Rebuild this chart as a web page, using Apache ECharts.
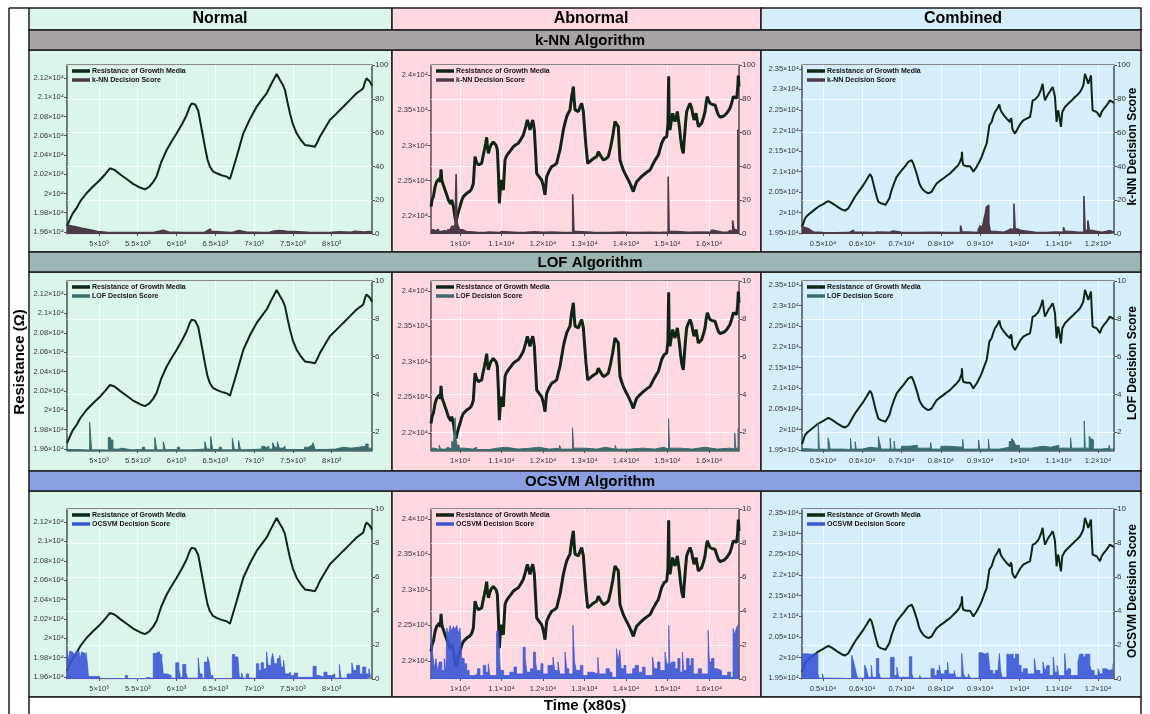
<!DOCTYPE html>
<html>
<head>
<meta charset="utf-8">
<script src="https://cdn.jsdelivr.net/npm/echarts@6/dist/echarts.min.js"></script>
<style>
  html, body { margin: 0; padding: 0; background: #fff; }
  #chart { width: 1150px; height: 714px; }
</style>
</head>
<body>
<div id="chart"></div>
<script>
// ---------- Resistance of growth media, [time, ohm] ----------
const resNormal = [
  [4588,19660],[4620,19720],[4660,19790],[4713,19850],[4760,19920],[4842,20005],[4920,20070],[5013,20140],
  [5080,20200],[5142,20262],[5200,20245],[5280,20195],[5357,20150],[5440,20100],[5529,20062],[5593,20043],
  [5650,20070],[5700,20120],[5744,20180],[5800,20320],[5873,20452],[5940,20545],[6002,20625],[6070,20720],
  [6131,20816],[6170,20900],[6195,20935],[6240,20925],[6259,20920],[6280,20860],[6302,20764],[6340,20600],
  [6366,20486],[6400,20350],[6431,20278],[6470,20230],[6517,20210],[6580,20190],[6646,20175],[6689,20150],
  [6730,20260],[6775,20382],[6820,20510],[6861,20625],[6950,20780],[7033,20902],[7100,20975],[7162,21041],
  [7230,21150],[7291,21242],[7310,21240],[7333,21180],[7370,21130],[7398,21075],[7430,20950],[7462,20833],
  [7500,20720],[7548,20625],[7600,20560],[7655,20504],[7720,20495],[7784,20486],[7820,20540],[7848,20590],
  [7900,20660],[7977,20764],[8060,20830],[8149,20902],[8240,20975],[8321,21041],[8380,21075],[8407,21093],
  [8430,21160],[8450,21197],[8475,21180],[8493,21162],[8520,21120]
];
const resAbnormal = [
  [9300,22132],[9330,22240],[9357,22274],[9400,22420],[9438,22487],[9470,22500],[9502,22534],[9525,22480],
  [9542,22662],[9560,22520],[9582,22463],[9610,22420],[9638,22369],[9680,22300],[9719,22227],[9750,22200],
  [9775,22170],[9800,22230],[9823,22250],[9845,22120],[9863,22038],[9885,21960],[9903,21920],[9925,21980],
  [9944,21991],[9970,22080],[9999,22132],[10040,22220],[10080,22274],[10120,22300],[10160,22321],[10210,22340],
  [10265,22369],[10300,22420],[10321,22463],[10340,22650],[10361,22841],[10400,22760],[10442,22723],[10480,22740],
  [10522,22747],[10555,22850],[10586,22936],[10615,23020],[10642,23116],[10660,22980],[10683,22889],[10715,22960],
  [10747,23007],[10800,23050],[10843,23078],[10870,23000],[10899,22936],[10925,22600],[10948,22180],[10970,22380],
  [10988,22511],[11015,22420],[11044,22369],[11065,22600],[11084,22794],[11120,22850],[11165,22889],[11220,22930],
  [11285,22983],[11345,23010],[11405,23031],[11470,23090],[11526,23149],[11580,23260],[11622,23361],[11655,23290],
  [11686,23220],[11720,23300],[11751,23361],[11770,23300],[11791,23220],[11820,22900],[11847,22605],[11900,22560],
  [11967,22511],[12010,22420],[12048,22298],[12070,22450],[12088,22558],[12150,22640],[12208,22700],[12270,22720],
  [12329,22747],[12370,22850],[12409,22936],[12450,23080],[12490,23220],[12530,23320],[12570,23409],[12610,23460],
  [12650,23503],[12670,23600],[12690,23692],[12710,23760],[12731,23834],[12750,23650],[12771,23503],[12810,23490],
  [12851,23480],[12890,23540],[12931,23598],[12952,23540],[12972,23480],[13000,23250],[13036,22983],[13076,22747],
  [13120,22770],[13172,22794],[13230,22820],[13293,22841],[13333,22912],[13390,22850],[13453,22794],[13510,22810],
  [13574,22841],[13630,22980],[13678,23125],[13710,23250],[13734,23338],[13775,23300],[13815,23267],[13835,23000],
  [13855,22794],[13895,22720],[13935,22652],[13995,22580],[14056,22511],[14120,22430],[14176,22345],[14215,22420],
  [14257,22487],[14340,22540],[14417,22581],[14500,22620],[14578,22652],[14620,22700],[14659,22747],[14720,22810],
  [14779,22865],[14820,22950],[14859,23031],[14916,23101],[14980,23125],[15010,23300],[15028,23980],[15040,23400],
  [15060,23220],[15090,23340],[15124,23456],[15150,23390],[15181,23338],[15210,23410],[15237,23480],[15260,23380],
  [15285,23267],[15315,23100],[15341,22983],[15360,22930],[15381,22889],[15400,23050],[15422,23220],[15440,23350],
  [15462,23480],[15500,23540],[15543,23598],[15583,23527],[15610,23440],[15639,23361],[15660,23400],[15687,23456],
  [15715,23360],[15743,23267],[15780,23290],[15823,23314],[15870,23400],[15904,23480],[15930,23600],[15960,23692],
  [15990,23640],[16024,23598],[16080,23580],[16145,23574],[16185,23500],[16225,23432],[16265,23400],[16305,23385],
  [16365,23420],[16426,23456],[16466,23490],[16506,23527],[16545,23600],[16586,23692],[16627,23716],[16667,23669],
  [16690,23800],[16707,23990],[16723,23834]
];
const resCombined = [
  [4466,19650],[4542,19864],[4600,19930],[4669,19985],[4780,20070],[4881,20146],[5009,20211],[5070,20250],
  [5136,20284],[5220,20240],[5306,20187],[5390,20130],[5475,20082],[5560,20050],[5645,20106],[5730,20250],
  [5815,20389],[5920,20530],[6027,20672],[6110,20800],[6196,20938],[6239,20874],[6280,20720],[6323,20551],
  [6365,20400],[6408,20268],[6470,20230],[6536,20211],[6590,20190],[6637,20163],[6690,20350],[6747,20551],
  [6810,20720],[6875,20874],[6960,20980],[7044,21076],[7110,21160],[7172,21237],[7257,21278],[7300,21190],
  [7341,21076],[7400,20900],[7452,20712],[7500,20620],[7553,20551],[7620,20500],[7681,20470],[7720,20460],
  [7765,20510],[7830,20620],[7893,20712],[7980,20780],[8062,20833],[8150,20900],[8232,20955],[8320,21040],
  [8402,21116],[8440,21160],[8469,21197],[8512,21157],[8530,21350],[8537,21480],[8550,21250],[8571,21157],
  [8620,21140],[8656,21132],[8700,21140],[8741,21132],[8790,21060],[8826,20995],[8870,21060],[8910,21116],
  [8980,21240],[9038,21359],[9100,21520],[9165,21682],[9200,21900],[9233,22126],[9292,22207],[9330,22330],
  [9377,22450],[9436,22530],[9487,22635],[9520,22500],[9547,22450],[9610,22360],[9674,22288],[9720,22240],
  [9759,22207],[9780,22300],[9801,22247],[9818,22045],[9850,21980],[9886,21924],[9930,22000],[9971,22070],
  [10030,22170],[10098,22247],[10180,22290],[10268,22328],[10300,22500],[10336,22732],[10390,22750],[10437,22773],
  [10470,22830],[10505,22894],[10550,23000],[10590,23136],[10620,22900],[10649,22732],[10690,22810],[10734,22894],
  [10790,22970],[10844,23055],[10875,22950],[10904,22813],[10925,22500],[10946,22207],[10965,22400],[10988,22490],
  [11020,22300],[11056,22086],[11075,22300],[11090,22450],[11158,22571],[11220,22630],[11285,22692],[11350,22750],
  [11413,22813],[11480,22870],[11540,22934],[11585,23010],[11625,23096],[11650,23250],[11667,23379],[11710,23260],
  [11752,23136],[11790,23250],[11820,23339],[11840,22900],[11862,22490],[11910,22470],[11964,22450],[12010,22390],
  [12049,22328],[12091,22450],[12150,22530],[12218,22611],[12260,22670],[12303,22732],[12350,22700],[12406,22668]
];

// ---------- Decision scores, [time, score]; each value holds until the next time ----------
const knnNormal = [
  [4588,5],[4620,4.6],[4660,4.2],[4700,3.8],[4740,3.4],[4780,3],[4830,2.5],[4880,2],[4930,1.4],[4980,1],
  [5100,0.8],[5300,0.9],[5500,0.8],[5700,1.5],[5760,2.2],[5830,1.2],[5900,0.8],[6100,0.9],[6360,2],[6400,3],
  [6440,1.5],[6500,0.8],[6700,1.2],[6740,2],[6800,1.2],[6900,0.8],[7100,1],[7200,1.8],[7260,2],[7330,1.6],
  [7420,1.5],[7500,1],[7700,0.9],[7900,1],[8000,1.3],[8100,1],[8250,1.6],[8300,1.2],[8420,1.5],[8480,1.2],[8520,1]
];
const knnAbnormal = [
  [9300,2.5],[9350,1.8],[9420,2.8],[9480,1.5],[9560,2],[9640,1.2],[9700,2.5],[9760,3.5],[9800,4.5],[9850,3],
  [9880,6],[9905,35.5],[9925,7],[9960,4],[10000,2.5],[10060,1.5],[10150,1],[10400,0.8],[10600,1.2],[10700,0.8],
  [10950,1.5],[11000,0.8],[11400,1],[11600,1.3],[11800,1],[12000,1.2],[12200,0.8],[12500,1],[12715,23.5],[12745,1.5],
  [12800,1],[13200,0.8],[13600,1.2],[13900,0.8],[14200,1],[14600,0.8],[14800,1.2],[15015,34],[15040,1.5],[15200,1],
  [15500,1.2],[15800,1],[16050,2.2],[16100,1.2],[16300,1],[16450,2],[16500,1.5],[16570,8],[16600,3],[16640,2],
  [16695,61.5],[16723,61.5]
];
const knnCombined = [
  [4466,4],[4520,3.5],[4580,3],[4640,2],[4700,1.2],[4760,0.8],[5000,0.7],[5300,0.8],[5650,1.5],[5720,2.2],
  [5780,1],[6000,0.8],[6300,1.2],[6360,2.2],[6400,1],[6650,1.2],[6720,1.8],[6780,1],[7000,0.8],[7400,1],
  [7800,0.8],[8200,1],[8500,5],[8540,1.2],[8700,0.8],[8950,2.5],[9000,5],[9050,3],[9090,8],[9130,12],
  [9160,16],[9190,17],[9220,6],[9260,1.5],[9400,1],[9600,2],[9700,3],[9780,2.5],[9860,18],[9890,3],
  [9950,2],[10050,1],[10400,0.8],[10700,1.2],[10900,1],[11120,4],[11160,1.5],[11300,1],[11500,1.2],[11640,22.5],
  [11670,2],[11740,8],[11780,2],[11850,1],[12100,1.5],[12200,2],[12300,1],[12406,1]
];
const lofNormal = [
  [4588,1.08],[4700,1.05],[4880,2.52],[4905,1.06],[5000,1.05],[5120,1.71],[5150,1.58],[5180,1.1],[5260,1.15],
  [5290,1.06],[5420,1.08],[5560,1.2],[5590,1.06],[5720,1.71],[5745,1.06],[5830,1.49],[5855,1.07],[6010,1.2],
  [6040,1.06],[6200,1.1],[6365,1.49],[6390,1.1],[6440,1.76],[6465,1.08],[6550,1.2],[6580,1.06],[6720,1.67],
  [6745,1.08],[6800,1.55],[6825,1.07],[6950,1.1],[7100,1.25],[7130,1.18],[7160,1.25],[7190,1.1],[7240,1.44],
  [7265,1.2],[7300,1.49],[7325,1.15],[7370,1.25],[7400,1.08],[7650,1.2],[7700,1.3],[7740,1.15],[7760,1.44],
  [7785,1.08],[7900,1.1],[8050,1.2],[8150,1.15],[8250,1.2],[8350,1.25],[8440,1.37],[8470,1.15],[8520,1.1]
];
const lofAbnormal = [
  [9300,1.15],[9380,1.08],[9500,1.3],[9530,1.1],[9650,1.2],[9700,1.1],[9800,1.53],[9840,1.3],[9880,2.76],
  [9905,1.6],[9930,1.3],[9980,1.15],[10100,1.1],[10300,1.2],[10400,1.08],[10700,1.15],[10900,1.2],[11100,1.1],
  [11400,1.15],[11700,1.2],[11900,1.1],[12150,1.15],[12400,1.3],[12430,1.1],[12710,2.23],[12740,1.15],[13000,1.1],
  [13300,1.2],[13500,1.1],[13740,1.3],[13770,1.1],[14100,1.15],[14400,1.1],[14700,1.2],[14900,1.1],[15025,2.71],
  [15050,1.15],[15300,1.1],[15600,1.2],[15900,1.1],[16200,1.15],[16500,1.1],[16620,1.96],[16645,1.15],[16700,2.2],
  [16723,2.2]
];
const lofCombined = [
  [4466,1.12],[4600,1.08],[4880,2.5],[4905,1.1],[5000,1.08],[5130,1.7],[5155,1.5],[5180,1.1],[5480,1.2],
  [5505,1.08],[5700,1.67],[5725,1.1],[5820,1.49],[5845,1.1],[6000,1.2],[6200,1.15],[6410,1.76],[6435,1.5],
  [6480,1.1],[6710,1.67],[6735,1.1],[6810,1.53],[6835,1.1],[7000,1.25],[7200,1.3],[7400,1.15],[7740,1.44],
  [7765,1.1],[8000,1.25],[8200,1.2],[8555,1.62],[8580,1.1],[8960,1.58],[8985,1.1],[9210,1.62],[9235,1.1],
  [9500,1.2],[9740,1.5],[9800,1.67],[9850,1.55],[9900,1.3],[10000,1.15],[10300,1.25],[10600,1.2],[10800,1.3],
  [11000,1.15],[11300,1.7],[11325,1.15],[11650,2.58],[11675,1.15],[11775,1.79],[11800,1.67],[11850,1.6],
  [11880,1.1],[12100,1.15],[12280,1.3],[12300,1.1],[12406,1.15]
];
const ocsvmNormal = [
  [4588,1.65],[4610,1.1],[4625,1.65],[4650,1.55],[4670,1.65],[4690,1.3],[4705,1.65],[4740,1.6],[4760,1.2],
  [4775,1.6],[4800,1.5],[4820,1.0],[4835,1.55],[4850,0.9],[4865,0.15],[4935,0.1],[4960,0.15],[5010,0.02],
  [5340,0.2],[5370,0.02],[5600,0.1],[5630,0.02],[5700,1.5],[5730,1.6],[5780,1.45],[5810,1.1],[5830,0.3],
  [5880,0.2],[5930,0.05],[5990,0.95],[6030,0.6],[6050,0.1],[6080,0.85],[6120,0.4],[6140,0.05],[6280,1.25],
  [6300,0.3],[6330,0.05],[6360,1.0],[6400,1.3],[6420,1.0],[6440,0.2],[6470,0.02],[6720,1.44],[6750,1.3],
  [6790,1.4],[6810,0.1],[6840,0.35],[6860,0.05],[6900,0.3],[6930,0.05],[7030,0.9],[7060,0.5],[7090,0.95],
  [7120,0.6],[7160,1.6],[7180,0.8],[7220,1.1],[7240,1.5],[7260,0.9],[7300,1.2],[7330,1.4],[7350,0.7],
  [7380,1.1],[7400,0.3],[7440,0.4],[7470,0.2],[7520,0.35],[7560,0.1],[7760,0.75],[7800,0.2],[7840,0.1],
  [7900,0.4],[7940,0.2],[8000,0.3],[8040,0.05],[8100,0.85],[8120,0.05],[8200,0.3],[8260,0.95],[8280,0.5],
  [8320,0.8],[8360,0.3],[8400,0.7],[8440,0.3],[8480,0.6],[8500,0.1],[8520,0.1]
];
const ocsvmAbnormal = [
  [9300,3.1],[9340,1.5],[9380,0.6],[9420,1.2],[9460,0.4],[9500,1.0],[9560,0.5],[9620,1.2],[9660,0.4],
  [9680,3.0],[9720,2.6],[9760,3.15],[9800,2.8],[9840,3.1],[9880,2.9],[9920,3.15],[9960,2.7],[10000,3.0],
  [10040,1.2],[10100,0.9],[10160,0.5],[10220,0.2],[10340,0.3],[10420,0.6],[10480,0.2],[10560,0.8],[10620,0.4],
  [10680,0.9],[10720,0.2],[10880,2.8],[10930,2.6],[10970,0.5],[11050,0.2],[11200,0.4],[11300,0.7],[11360,0.3],
  [11520,1.87],[11570,1.2],[11610,0.4],[11700,0.6],[11770,1.58],[11820,1.0],[11850,0.5],[11950,0.9],[12000,0.3],
  [12120,0.8],[12240,1.28],[12280,0.5],[12360,1.0],[12400,0.3],[12530,1.58],[12570,0.6],[12620,0.3],[12720,3.16],
  [12760,1.0],[12800,0.5],[12900,0.8],[12960,0.2],[13080,0.4],[13200,0.3],[13320,1.28],[13350,0.3],[13520,0.6],
  [13600,0.4],[13660,0.1],[13770,1.78],[13810,1.0],[13850,1.7],[13880,0.6],[13950,0.8],[14000,0.3],[14160,0.6],
  [14220,0.8],[14300,0.4],[14400,0.7],[14460,0.2],[14640,1.28],[14680,0.6],[14760,1.0],[14820,0.5],[14940,1.58],
  [14980,0.9],[15030,3.15],[15055,0.8],[15100,1.0],[15180,0.6],[15250,1.2],[15300,0.4],[15360,1.58],[15390,0.5],
  [15460,1.2],[15520,0.8],[15570,1.2],[15620,0.3],[15740,0.6],[15820,0.3],[15980,2.86],[16010,1.0],[16060,1.2],
  [16120,0.6],[16200,0.5],[16300,0.2],[16450,0.4],[16520,0.1],[16580,2.96],[16620,2.6],[16660,3.0],[16700,3.2],
  [16723,3.2]
];
const ocsvmCombined = [
  [4466,1.48],[4600,1.45],[4700,1.48],[4760,1.3],[4800,1.48],[4870,0.3],[4900,0.05],[4990,0.3],[5010,0.05],
  [5340,0.15],[5370,0.02],[5730,1.4],[5770,1.1],[5810,0.7],[5850,0.3],[5880,0.05],[6060,0.82],[6100,0.6],
  [6150,0.1],[6230,0.8],[6260,0.1],[6360,1.21],[6420,0.4],[6460,0.05],[6720,1.27],[6810,0.2],[6880,0.7],
  [6920,0.1],[7200,1.31],[7260,0.3],[7300,0.05],[7460,0.2],[7500,0.05],[7750,0.6],[7830,0.2],[7900,0.5],
  [7960,0.8],[8000,0.3],[8100,0.5],[8170,1.0],[8200,0.3],[8340,0.5],[8380,0.1],[8530,1.5],[8575,0.3],
  [8620,0.1],[8700,0.3],[8750,0.05],[8970,1.54],[9050,1.45],[9120,1.54],[9200,1.5],[9250,0.5],[9320,0.3],
  [9380,0.5],[9440,0.1],[9490,1.5],[9520,0.5],[9560,0.1],[9680,1.46],[9740,1.3],[9780,1.46],[9840,1.2],
  [9900,1.46],[9980,0.8],[10040,0.4],[10100,0.6],[10200,0.3],[10380,1.2],[10420,0.5],[10520,0.3],[10600,1.0],
  [10650,0.4],[10700,0.8],[10760,0.2],[10860,1.3],[10900,0.4],[10960,0.8],[11000,0.2],[11150,1.5],[11190,0.4],
  [11240,0.6],[11300,0.2],[11490,1.0],[11530,1.46],[11620,1.3],[11680,1.46],[11790,0.8],[11830,0.5],[11900,0.2],
  [12000,0.6],[12050,0.3],[12120,0.6],[12200,0.5],[12300,0.6],[12380,0.9],[12406,0.9]
];

// ---------- Tick values ----------
const normalTimeTicks   = [5000, 5500, 6000, 6500, 7000, 7500, 8000];
const abnormalTimeTicks = [10000, 11000, 12000, 13000, 14000, 15000, 16000];
const combinedTimeTicks = [5000, 6000, 7000, 8000, 9000, 10000, 11000, 12000];
const normalResTicks    = [19600, 19800, 20000, 20200, 20400, 20600, 20800, 21000, 21200];
const abnormalResTicks  = [22000, 22500, 23000, 23500, 24000];
const combinedResTicks  = [19500, 20000, 20500, 21000, 21500, 22000, 22500, 23000, 23500];
const knnScoreTicks     = [0, 20, 40, 60, 80, 100];
const lofScoreTicks     = [2, 4, 6, 8, 10];
const ocsvmScoreTicks   = [0, 2, 4, 6, 8, 10];

const RES_NAME = 'Resistance of Growth Media';
const FONT = '"Liberation Sans", Arial, Helvetica, sans-serif';
const EDGE = '#1d1d1d';

const SUP = { 3: '\u00B3', 4: '\u2074' };
function sci(exp) {
  return function (v) {
    const m = +(v / Math.pow(10, exp)).toFixed(4);
    return m + '\u00D710' + SUP[exp];
  };
}

// Columns: data sets and plot geometry
const columns = [
  { title: 'Normal',   titleX: 220, x0: 29,  x1: 392,  fill: '#dcf5eb',
    left: 67,  width: 305, tMin: 4588, tMax: 8520,  tTicks: normalTimeTicks,   tExp: 3,
    res: resNormal,   rMin: 19579, rMax: 21335, rTicks: normalResTicks,   lineW: 2 },
  { title: 'Abnormal', titleX: 591, x0: 392, x1: 761,  fill: '#ffd9df',
    left: 431, width: 308, tMin: 9300, tMax: 16723, tTicks: abnormalTimeTicks, tExp: 4,
    res: resAbnormal, rMin: 21745, rMax: 24140, rTicks: abnormalResTicks, lineW: 3 },
  { title: 'Combined', titleX: 963, x0: 761, x1: 1141, fill: '#d5eefa',
    left: 802, width: 312, tMin: 4466, tMax: 12406, tTicks: combinedTimeTicks, tExp: 4,
    res: resCombined, rMin: 19483, rMax: 23592, rTicks: combinedResTicks, lineW: 2 }
];

// Rows: one per detection algorithm
const rows = [
  { band: 'k-NN Algorithm',  bandY: 30,  bandFill: '#a6a2a6', panelY: 50,  panelH: 202,
    top: 65,  height: 169, name: 'k-NN Decision Score',  color: '#4b3b48', opacity: 1,
    sMin: 0, sMax: 100, sTicks: knnScoreTicks,   scores: [knnNormal, knnAbnormal, knnCombined], lw: 1.6 },
  { band: 'LOF Algorithm',   bandY: 252, bandFill: '#9db6b5', panelY: 272, panelH: 199,
    top: 281, height: 170, name: 'LOF Decision Score',   color: '#3d6c6e', opacity: 1,
    sMin: 1, sMax: 10,  sTicks: lofScoreTicks,   scores: [lofNormal, lofAbnormal, lofCombined], lw: 1 },
  { band: 'OCSVM Algorithm', bandY: 471, bandFill: '#8d9fe3', panelY: 491, panelH: 206,
    top: 509, height: 170, name: 'OCSVM Decision Score', color: '#3a56d6', opacity: 0.9,
    sMin: 0, sMax: 10,  sTicks: ocsvmScoreTicks, scores: [ocsvmNormal, ocsvmAbnormal, ocsvmCombined], lw: 0.8 }
];

const grids = [], xAxes = [], yAxes = [], series = [], legends = [], graphics = [];

// Frame, column headers, algorithm bands and panel backgrounds
graphics.push({ type: 'line', z: 5, silent: true, shape: { x1: 9, y1: 8, x2: 9, y2: 714 },
  style: { stroke: EDGE, lineWidth: 1.5 } });
graphics.push({ type: 'line', z: 5, silent: true, shape: { x1: 9, y1: 8, x2: 29, y2: 8 },
  style: { stroke: EDGE, lineWidth: 1.5 } });
columns.forEach(c => {
  graphics.push({ type: 'rect', z: -1, silent: true,
    shape: { x: c.x0, y: 8, width: c.x1 - c.x0, height: 22 },
    style: { fill: c.fill, stroke: EDGE, lineWidth: 1.5 } });
  graphics.push({ type: 'text', z: 10, silent: true, x: c.titleX, y: 19,
    style: { text: c.title, fill: '#000', fontSize: 16, fontWeight: 'bold', fontFamily: FONT,
             align: 'center', verticalAlign: 'middle' } });
  rows.forEach(r => {
    graphics.push({ type: 'rect', z: -1, silent: true,
      shape: { x: c.x0, y: r.panelY, width: c.x1 - c.x0, height: r.panelH },
      style: { fill: c.fill, stroke: EDGE, lineWidth: 1.5 } });
  });
});
rows.forEach(r => {
  graphics.push({ type: 'rect', z: -1, silent: true,
    shape: { x: 29, y: r.bandY, width: 1112, height: 20 },
    style: { fill: r.bandFill, stroke: EDGE, lineWidth: 1.5 } });
  graphics.push({ type: 'text', z: 10, silent: true, x: 590, y: r.bandY + 10.5,
    style: { text: r.band, fill: '#000', fontSize: 15, fontWeight: 'bold', fontFamily: FONT,
             align: 'center', verticalAlign: 'middle' } });
  graphics.push({ type: 'text', z: 10, silent: true, x: 1133, y: r.top + r.height / 2 - 3,
    rotation: Math.PI / 2,
    style: { text: r.name, fill: '#000', fontSize: 12, fontWeight: 'bold', fontFamily: FONT,
             align: 'center', verticalAlign: 'middle' } });
});
graphics.push({ type: 'rect', z: -1, silent: true,
  shape: { x: 29, y: 697, width: 1112, height: 30 },
  style: { fill: '#fff', stroke: EDGE, lineWidth: 1.5 } });
graphics.push({ type: 'text', z: 10, silent: true, x: 585, y: 706,
  style: { text: 'Time (x80s)', fill: '#000', fontSize: 15, fontWeight: 'bold', fontFamily: FONT,
           align: 'center', verticalAlign: 'middle' } });
graphics.push({ type: 'text', z: 10, silent: true, x: 20, y: 362, rotation: Math.PI / 2,
  style: { text: 'Resistance (\u03A9)', fill: '#000', fontSize: 15, fontWeight: 'bold', fontFamily: FONT,
           align: 'center', verticalAlign: 'middle' } });

// Nine plots
const gridLine = { show: true, lineStyle: { color: 'rgba(255,255,255,0.75)', width: 1 } };
rows.forEach((r, ri) => {
  columns.forEach((c, ci) => {
    const g = grids.length;
    grids.push({ left: c.left, top: r.top, width: c.width, height: r.height,
      show: true, borderColor: '#2a2a2a', borderWidth: 1.2, backgroundColor: 'rgba(0,0,0,0)',
      containLabel: false });
    xAxes.push({ type: 'value', gridIndex: g, min: c.tMin, max: c.tMax,
      axisLine: { show: false },
      axisTick: { show: true, length: 2, customValues: c.tTicks, lineStyle: { color: '#555' } },
      axisLabel: { customValues: c.tTicks, formatter: sci(c.tExp), fontSize: 7.5, color: '#333',
                   fontFamily: FONT, margin: 6 },
      splitLine: gridLine });
    yAxes.push({ type: 'value', gridIndex: g, position: 'left', min: c.rMin, max: c.rMax,
      axisLine: { show: false },
      axisTick: { show: true, length: 3, customValues: c.rTicks, lineStyle: { color: '#555' } },
      axisLabel: { customValues: c.rTicks, formatter: sci(4), fontSize: 7.5, color: '#333',
                   fontFamily: FONT, margin: 3 },
      splitLine: { show: false } });
    yAxes.push({ type: 'value', gridIndex: g, position: 'right', min: r.sMin, max: r.sMax,
      axisLine: { show: false },
      axisTick: { show: true, length: 3, customValues: r.sTicks, lineStyle: { color: '#555' } },
      axisLabel: { customValues: r.sTicks, fontSize: 8, color: '#333', fontFamily: FONT, margin: 3 },
      splitLine: gridLine });
    series.push({ type: 'line', name: RES_NAME, xAxisIndex: g, yAxisIndex: 2 * g,
      data: c.res, symbol: 'none', z: 3,
      lineStyle: { color: '#0d2616', width: c.lineW }, itemStyle: { color: '#0d2616' } });
    series.push({ type: 'line', name: r.name, xAxisIndex: g, yAxisIndex: 2 * g + 1,
      data: r.scores[ci], symbol: 'none', step: 'end', z: 4,
      lineStyle: { color: r.color, width: r.lw, opacity: r.opacity },
      areaStyle: { color: r.color, opacity: r.opacity, origin: 'start' },
      itemStyle: { color: r.color } });
    legends.push({ data: [RES_NAME, r.name], left: c.left + 5, top: r.top + 2, orient: 'vertical',
      icon: 'rect', itemWidth: 18, itemHeight: 3.5, itemGap: 1, padding: 0, selectedMode: false,
      textStyle: { fontSize: 7, fontWeight: 'bold', color: '#111', fontFamily: FONT, lineHeight: 8,
                   padding: [0, 0, 0, -3] } });
  });
});

const chart = echarts.init(document.getElementById('chart'), null, { renderer: 'canvas' });
chart.setOption({
  animation: false,
  backgroundColor: '#ffffff',
  textStyle: { fontFamily: FONT },
  grid: grids, xAxis: xAxes, yAxis: yAxes, series: series, legend: legends,
  graphic: { elements: graphics }
});
</script>
</body>
</html>
